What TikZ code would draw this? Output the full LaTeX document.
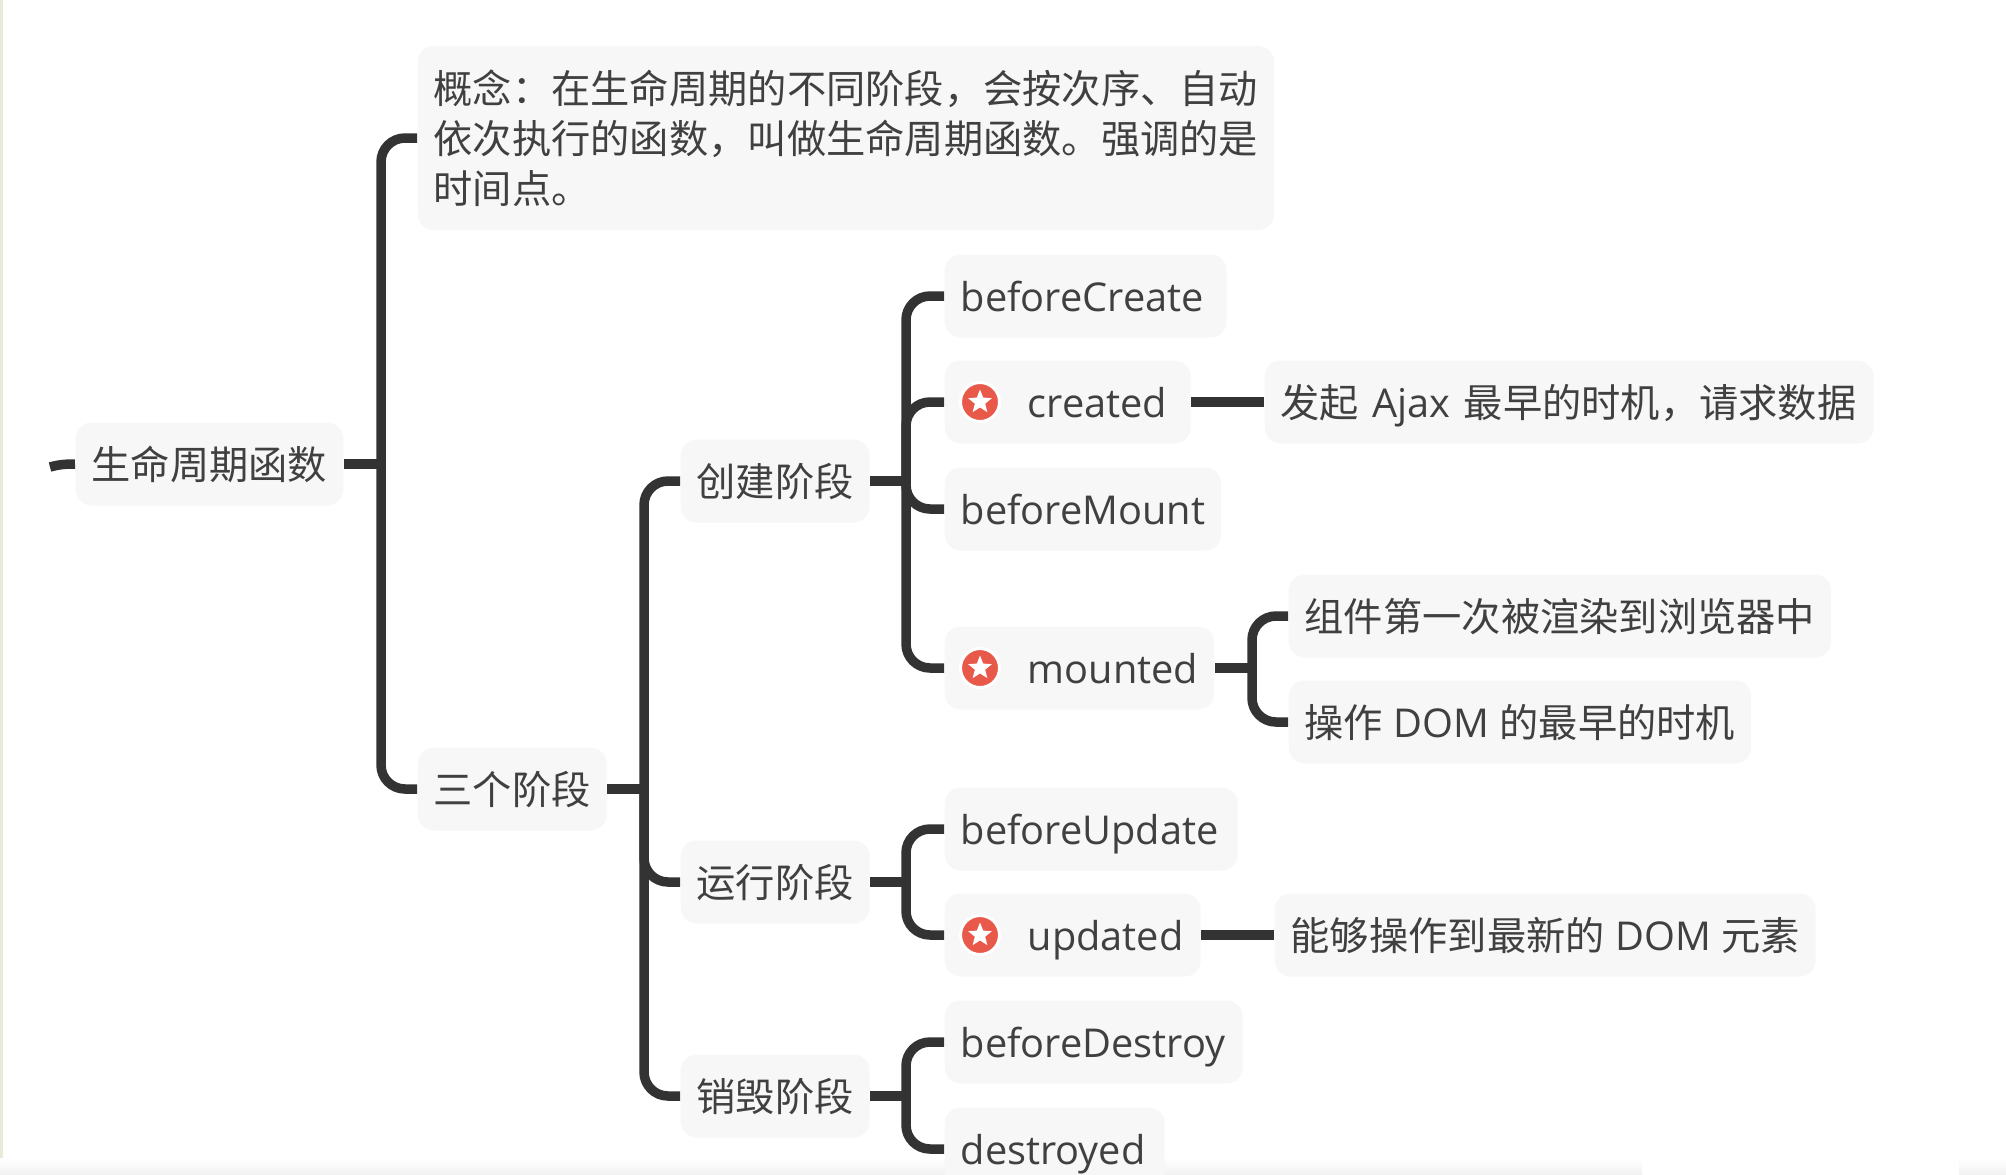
\documentclass[tikz,border=0pt]{standalone}
\usepackage{fontspec}
\usepackage{xcolor}
\setmainfont[Scale=1.012]{Open Sans}
\newfontfamily\cjk{Noto Sans CJK SC}
\definecolor{boxfill}{HTML}{F7F7F7}
\definecolor{inkgray}{HTML}{404040}
\definecolor{linkgray}{HTML}{333333}
\definecolor{markred}{HTML}{E8594A}
\definecolor{edgegreen}{HTML}{E8EBD6}
\usetikzlibrary{shapes.geometric}
\tikzset{
topic/.style={fill=boxfill, rounded corners=1.6mm, anchor=west, minimum height=8.3mm, inner xsep=1.6mm, inner ysep=0pt, text height=3.6mm, text depth=0.6mm, text=inkgray, align=left, font=\fontsize{11.17}{14.2}\selectfont},
link/.style={draw=linkgray, line width=0.095cm, rounded corners=2.4mm},
markdisc/.style={circle, fill=markred, draw=white, line width=0.3mm, inner sep=0pt, minimum size=3.9mm},
markstar/.style={star, star points=5, star point ratio=2.3, fill=white, inner sep=0pt, minimum size=2.5mm},
fadeband/.style={top color=white, bottom color=black!5},
}
\begin{document}
\begin{tikzpicture}
\useasboundingbox (0,0) rectangle (20.06,-11.74);
\fill[edgegreen] (0,0) rectangle (0.03,-11.74);
\shade[fadeband] (0,-11.58) rectangle (16.42,-11.74);
\shade[fadeband] (19.59,-11.58) rectangle (20.06,-11.74);
%nodes, at their left edge
\node[topic] (life) at (0.75,-4.64) {\cjk 生命周期函数};
\node[topic, text height=, text depth=, minimum height=18.4mm] (concept) at (4.17,-1.38) {\cjk 概念：在生命周期的不同阶段，会按次序、自动\\\cjk 依次执行的函数，叫做生命周期函数。强调的是\\\cjk 时间点。};
\node[topic] (three) at (4.17,-7.89) {\cjk 三个阶段};
\node[topic] (create) at (6.8,-4.81) {\cjk 创建阶段};
\node[topic] (run) at (6.8,-8.82) {\cjk 运行阶段};
\node[topic] (destroy) at (6.8,-10.96) {\cjk 销毁阶段};
\node[topic, text width=2.5cm] (beforecreate) at (9.44,-2.96) {beforeCreate};
\node[topic, text width=2.14cm] (created) at (9.44,-4.02) {\hspace*{6.7mm}created};
\node[topic] (beforemount) at (9.44,-5.09) {beforeMount};
\node[topic] (mounted) at (9.44,-6.68) {\hspace*{6.7mm}mounted};
\node[topic, text width=2.61cm] (beforeupdate) at (9.44,-8.29) {beforeUpdate};
\node[topic, text width=2.24cm] (updated) at (9.44,-9.35) {\hspace*{6.7mm}updated};
\node[topic, text width=2.66cm] (beforedestroy) at (9.44,-10.42) {beforeDestroy};
\node[topic, text width=1.88cm] (destroyed) at (9.44,-11.49) {destroyed};
\node[topic, text width=5.77cm] (ajax) at (12.64,-4.02) {{\cjk 发起} Ajax {\cjk 最早的时机，请求数据}};
\node[topic] (render) at (12.88,-6.16) {\cjk 组件第一次被渲染到浏览器中};
\node[topic] (dom) at (12.88,-7.22) {{\cjk 操作} DOM {\cjk 的最早的时机}};
\node[topic] (newest) at (12.74,-9.35) {{\cjk 能够操作到最新的} DOM {\cjk 元素}};
%star marks
\foreach \n in {created,mounted,updated}{
\node[markdisc] (disc\n) at ([xshift=0.36cm]\n.west) {};
\node[markstar] (star\n) at (disc\n) {};
}
%hubs on the trunks
\coordinate (hublife) at (3.81,-4.64);
\coordinate (hubthree) at (6.44,-7.89);
\coordinate (hubcreate) at (9.06,-4.81);
\coordinate (hubrun) at (9.06,-8.82);
\coordinate (hubdestroy) at (9.06,-10.96);
\coordinate (hubmounted) at (12.52,-6.68);
\coordinate (stub) at (0.5,-4.67);
\draw[link] (stub) to[out=15,in=180] (life.west);
\foreach \from/\hub/\first/\last in {life/hublife/concept/three,three/hubthree/create/destroy,create/hubcreate/beforecreate/mounted,run/hubrun/beforeupdate/updated,destroy/hubdestroy/beforedestroy/destroyed,mounted/hubmounted/render/dom}{
\draw[link] (\from.east) -- (\hub);
\draw[link] (\first.west) -| (\hub) |- (\last.west);
}
\draw[link] (created.west) -| (hubcreate);
\draw[link] (beforemount.west) -| (hubcreate);
\draw[link] (run.west) -| (hubthree);
\draw[link] (created.east) -- (ajax.west);
\draw[link] (updated.east) -- (newest.west);
\end{tikzpicture}
\end{document}
